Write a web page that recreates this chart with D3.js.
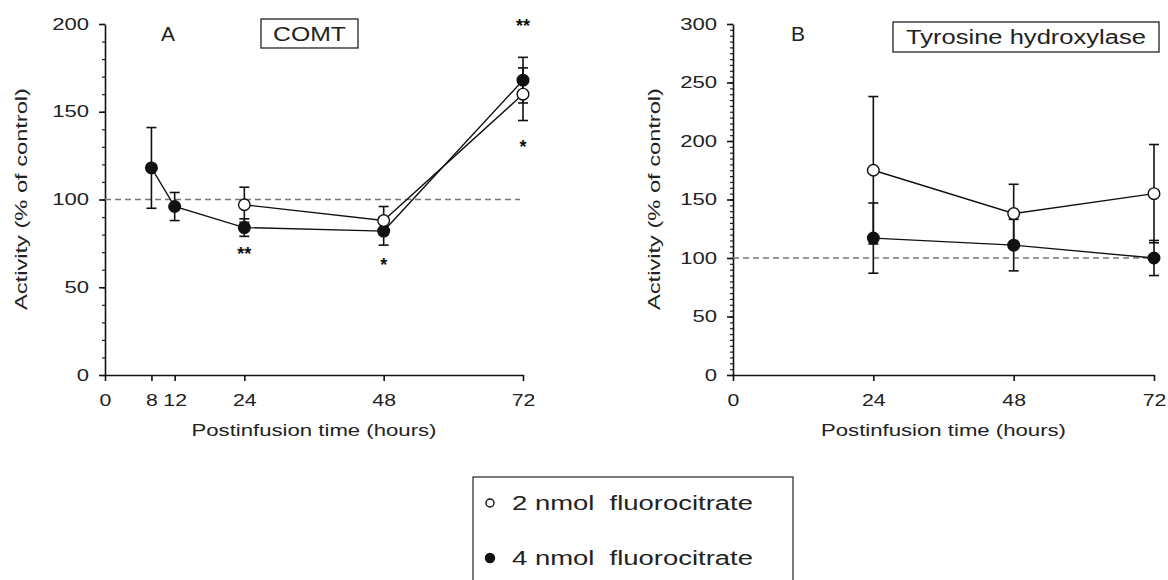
<!DOCTYPE html>
<html><head><meta charset="utf-8">
<script src="https://cdn.jsdelivr.net/npm/d3@7"></script>
<style>
body{margin:0;background:#fff;}
svg{font-family:"Liberation Sans",Arial,sans-serif;}
</style></head>
<body><svg id="c" width="1168" height="580"></svg>
<script>
// ---- Data ----
// Panel A: COMT
const comtTimes2 = [24, 48, 72];
const comtVals2 = [97, 88, 160];
const comtErr2 = [10, 8, 15];
const comtTimes4 = [8, 12, 24, 48, 72];
const comtVals4 = [118, 96, 84, 82, 168];
const comtErr4 = [23, 8, 5, 8, 13];
const comtStars = [
  {t: 24, v: 70, s: "**"},
  {t: 48, v: 64, s: "*"},
  {t: 72, v: 200, s: "**"},
  {t: 72, v: 131, s: "*"}
];
const comtXTicks = [0, 8, 12, 24, 48, 72];
const comtYTicks = [0, 50, 100, 150, 200];

// Panel B: Tyrosine hydroxylase
const thTimes = [24, 48, 72];
const thVals2 = [175, 138, 155];
const thErr2 = [63, 25, 42];
const thVals4 = [117, 111, 100];
const thErr4 = [30, 22, 15];
const thXTicks = [0, 24, 48, 72];
const thYTicks = [0, 50, 100, 150, 200, 250, 300];

const legendLabels = ["2 nmol  fluorocitrate", "4 nmol  fluorocitrate"];

// ---- Drawing ----
const svg = d3.select("#c");

function stretch(sel, k){
  sel.each(function(){
    const w = this.getComputedTextLength();
    if (w > 0) d3.select(this).attr("textLength", w*k).attr("lengthAdjust","spacingAndGlyphs");
  });
}

function panel(opt){
  const g = svg.append("g");
  const x = d3.scaleLinear().domain([0,72]).range([opt.x0, opt.x1]);
  const y = d3.scaleLinear().domain([0,opt.ymax]).range([375, 24]);

  // minor y ticks
  g.append("g").attr("transform",`translate(${opt.x0},0)`)
    .call(d3.axisLeft(y).tickValues(d3.range(0,opt.ymax+0.1,opt.minor)).tickSize(3).tickFormat(""))
    .call(a=>a.select(".domain").remove())
    .call(a=>a.selectAll("line").attr("stroke","#222").attr("stroke-width",1.2));
  // major y
  g.append("g").attr("transform",`translate(${opt.x0},0)`)
    .call(d3.axisLeft(y).tickValues(opt.yticks).tickSize(6).tickSizeOuter(0).tickPadding(10))
    .call(a=>a.select(".domain").attr("stroke","#111").attr("stroke-width",1.6))
    .call(a=>a.selectAll("line").attr("stroke","#111").attr("stroke-width",1.6))
    .call(a=>a.selectAll("text").attr("font-size",16).attr("fill","#222").attr("font-family","Liberation Sans, Arial").call(stretch,1.38));
  // x axis
  g.append("g").attr("transform",`translate(0,375)`)
    .call(d3.axisBottom(x).tickValues(opt.xticks).tickSize(6).tickSizeOuter(0).tickPadding(13))
    .call(a=>a.select(".domain").attr("stroke","#111").attr("stroke-width",1.6))
    .call(a=>a.selectAll("line").attr("stroke","#111").attr("stroke-width",1.6))
    .call(a=>a.selectAll("text").attr("font-size",17).attr("fill","#222").attr("font-family","Liberation Sans, Arial").call(stretch,1.25));

  // dashed control line
  g.append("line").attr("x1",x(0)).attr("x2",x(opt.dashEnd)).attr("y1",y(100)).attr("y2",y(100))
    .attr("stroke","#777").attr("stroke-width",1.6).attr("stroke-dasharray","6,4");

  // axis labels
  g.append("text").attr("transform",`translate(${opt.ylabX},${opt.ylabY}) rotate(-90)`)
    .attr("text-anchor","middle").attr("font-size",16).attr("fill","#222")
    .attr("textLength",222).attr("lengthAdjust","spacingAndGlyphs").text("Activity (% of control)");
  g.append("text").attr("x",(opt.x0+opt.x1)/2).attr("y",436).attr("text-anchor","middle")
    .attr("font-size",17).attr("fill","#222")
    .attr("textLength",245).attr("lengthAdjust","spacingAndGlyphs").text("Postinfusion time (hours)");

  // letter
  g.append("text").attr("x",opt.letterX).attr("y",41).attr("text-anchor","middle")
    .attr("font-size",21).attr("fill","#222").text(opt.letter);

  // title box
  g.append("rect").attr("x",opt.box[0]).attr("y",opt.box[1]).attr("width",opt.box[2]).attr("height",opt.box[3])
    .attr("fill","none").attr("stroke","#222").attr("stroke-width",1.3);
  g.append("text").attr("x",opt.box[0]+opt.box[2]/2).attr("y",opt.box[1]+opt.box[3]/2+7)
    .attr("text-anchor","middle").attr("font-size",20).attr("fill","#222")
    .attr("textLength",opt.titleLen).attr("lengthAdjust","spacingAndGlyphs").text(opt.title);

  // series
  opt.series.forEach(s=>{
    const pts = s.t.map((t,i)=>({t, v:s.v[i], e:s.e[i]}));
    const line = d3.line().x(d=>x(d.t)).y(d=>y(d.v));
    g.append("path").datum(pts).attr("d",line).attr("fill","none").attr("stroke","#111").attr("stroke-width",1.4);
    const eb = g.append("g");
    pts.forEach(d=>{
      eb.append("line").attr("x1",x(d.t)).attr("x2",x(d.t)).attr("y1",y(d.v-d.e)).attr("y2",y(d.v+d.e))
        .attr("stroke","#111").attr("stroke-width",1.6);
      [d.v-d.e, d.v+d.e].forEach(vv=>{
        eb.append("line").attr("x1",x(d.t)-5).attr("x2",x(d.t)+5).attr("y1",y(vv)).attr("y2",y(vv))
          .attr("stroke","#111").attr("stroke-width",1.6);
      });
    });
  });
  opt.series.forEach(s=>{
    g.append("g").selectAll("circle").data(s.t.map((t,i)=>({t,v:s.v[i]}))).join("circle")
      .attr("cx",d=>x(d.t)).attr("cy",d=>y(d.v)).attr("r",5.8)
      .attr("fill",s.filled?"#111":"#fff").attr("stroke","#111").attr("stroke-width",1.4);
  });
  // stars
  (opt.stars||[]).forEach(st=>{
    g.append("text").attr("x",x(st.t)).attr("y",y(st.v)+8).attr("text-anchor","middle")
      .attr("font-size",18).attr("font-weight","bold").attr("fill","#111").text(st.s);
  });
}

panel({x0:105, x1:523, ymax:200, minor:10, yticks:comtYTicks, xticks:comtXTicks, dashEnd:71.5,
  ylabX:27, ylabY:199, letter:"A", letterX:168,
  box:[261,19,97,29], title:"COMT", titleLen:73,
  series:[
    {t:comtTimes4, v:comtVals4, e:comtErr4, filled:true},
    {t:comtTimes2, v:comtVals2, e:comtErr2, filled:false}
  ],
  stars:comtStars});

panel({x0:733, x1:1154, ymax:300, minor:5, yticks:thYTicks, xticks:thXTicks, dashEnd:72,
  ylabX:660, ylabY:199, letter:"B", letterX:798,
  box:[893,22,266,30], title:"Tyrosine hydroxylase", titleLen:240,
  series:[
    {t:thTimes, v:thVals4, e:thErr4, filled:true},
    {t:thTimes, v:thVals2, e:thErr2, filled:false}
  ]});

// legend
const lg = svg.append("g");
lg.append("rect").attr("x",473).attr("y",477).attr("width",320).attr("height",130)
  .attr("fill","none").attr("stroke","#333").attr("stroke-width",1.3);
legendLabels.forEach((lab,i)=>{
  const cy = 503 + i*55;
  lg.append("circle").attr("cx",490).attr("cy",cy).attr("r",i===0?4:4.5)
    .attr("fill",i===0?"#fff":"#111").attr("stroke","#111").attr("stroke-width",1.4);
  lg.append("text").attr("x",512).attr("y",cy+7).attr("font-size",20).attr("fill","#222")
    .attr("textLength",241).attr("lengthAdjust","spacingAndGlyphs")
    .style("white-space","pre").text(lab);
});
</script></body></html>
